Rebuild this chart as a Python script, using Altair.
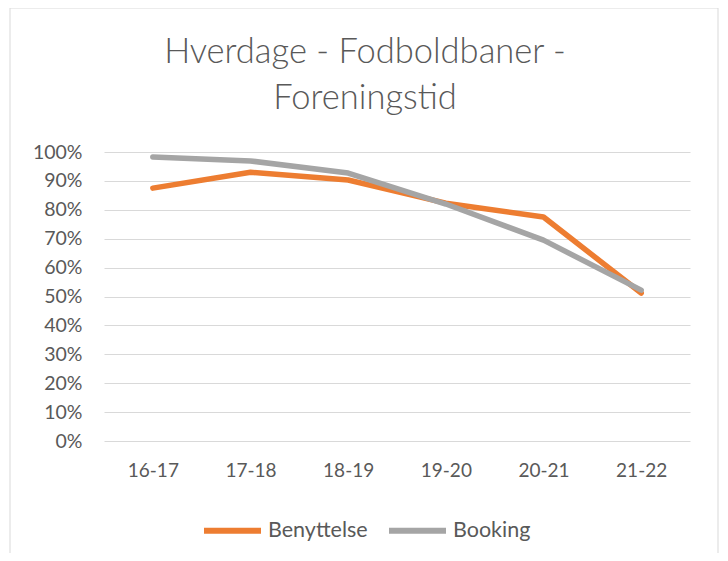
import altair as alt
import pandas as pd

categories = ["16-17", "17-18", "18-19", "19-20", "20-21", "21-22"]
benyttelse = [0.875, 0.930, 0.903, 0.823, 0.775, 0.512]
booking = [0.983, 0.969, 0.927, 0.820, 0.695, 0.522]
series_names = ["Benyttelse", "Booking"]
series_colors = ["#ED7D31", "#A5A5A5"]
y_ticks = [0, 0.1, 0.2, 0.3, 0.4, 0.5, 0.6, 0.7, 0.8, 0.9, 1.0]
title_lines = ["Hverdage - Fodboldbaner -", "Foreningstid"]

rows = []
for name, vals in zip(series_names, [benyttelse, booking]):
    for c, v in zip(categories, vals):
        rows.append({"Periode": c, "Serie": name, "Andel": v})
df = pd.DataFrame(rows)

FONT = "Lato"
TXT = "#595959"

lines = alt.Chart(df).mark_line(strokeWidth=5.5, strokeCap="round", strokeJoin="round").encode(
    x=alt.X("Periode:N", sort=categories, title=None,
            scale=alt.Scale(type="point", padding=0.5),
            axis=alt.Axis(labelAngle=0, ticks=False, domain=False, grid=False,
                          labelFont=FONT, labelFontSize=19, labelColor=TXT, labelPadding=20)),
    y=alt.Y("Andel:Q", title=None,
            scale=alt.Scale(domain=[0, 1], nice=False, zero=True),
            axis=alt.Axis(values=y_ticks, format=".0%", ticks=False, domain=False,
                          grid=True, gridColor="#D9D9D9", gridWidth=1,
                          labelFont=FONT, labelFontSize=19.5, labelColor=TXT, labelPadding=22)),
    color=alt.Color("Serie:N", sort=series_names,
                    scale=alt.Scale(domain=series_names, range=series_colors),
                    legend=alt.Legend(title=None, orient="none", direction="horizontal",
                                      legendX=97, legendY=347,
                                      symbolType="stroke", symbolSize=3249,
                                      symbolStrokeWidth=6, labelFont=FONT,
                                      labelFontSize=21.5, labelColor=TXT,
                                      labelOffset=4, columnPadding=9)),
    order=alt.Order("Serie:N"),
)

border = alt.Chart(alt.Data(values=[{}])).mark_rect(
    fill=None, stroke="#D9D9D9", strokeWidth=1, clip=False
).encode(
    x=alt.value(-94), x2=alt.value(614), y=alt.value(-144), y2=alt.value(450)
)

title = alt.Chart(alt.Data(values=[{}])).mark_text(
    text=title_lines, font=FONT, fontSize=34.5, fontWeight=300, color=TXT,
    align="center", baseline="alphabetic", lineHeight=46, clip=False
).encode(
    x=alt.value(261), y=alt.value(-89)
)

chart = alt.layer(border, title, lines).properties(
    width=586,
    height=289,
    autosize=alt.AutoSizeParams(type="none"),
    padding={"left": 96, "top": 144, "right": 30, "bottom": 112},
).configure(background="white").configure_view(strokeWidth=0, stroke="transparent")

chart.save("out.html", embed_options={"renderer": "svg", "actions": False})
